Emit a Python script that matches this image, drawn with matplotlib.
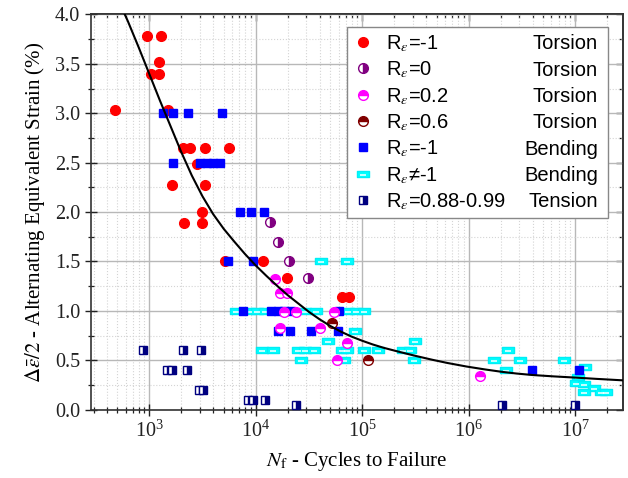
import numpy as np
import matplotlib
matplotlib.use('Agg')
import matplotlib.pyplot as plt
from matplotlib.path import Path
from matplotlib.ticker import LogLocator, MultipleLocator, NullFormatter, LogFormatterMathtext, FormatStrFormatter
from matplotlib.transforms import IdentityTransform

plt.rcParams['font.family'] = ['Liberation Serif', 'DejaVu Serif']
plt.rcParams['mathtext.fontset'] = 'stix'

# ---------------- data ----------------
# Torsion, R = -1
tor_m1_N = [477, 945, 1288, 1241, 1037, 1241, 1486, 2084, 2405, 3325, 5623, 2780, 1644, 3325,
            3097, 2128, 3097, 5117, 11700, 19630, 64400, 74900]
tor_m1_E = [3.03, 3.78, 3.78, 3.52, 3.40, 3.40, 3.03, 2.65, 2.65, 2.65, 2.65, 2.49, 2.27, 2.27,
            2.00, 1.89, 1.89, 1.51, 1.51, 1.33, 1.14, 1.14]
# Torsion, R = 0
tor_0_N = [13740, 16180, 20370, 30900]
tor_0_E = [1.90, 1.70, 1.51, 1.33]
# Torsion, R = 0.2
tor_02_N = [15070, 16780, 19500, 18400, 23710, 53830, 16780, 40360, 72270, 57800, 1.276e6]
tor_02_E = [1.32, 1.18, 1.18, 0.99, 0.99, 0.99, 0.83, 0.83, 0.68, 0.50, 0.34]
# Torsion, R = 0.6
tor_06_N = [51900, 112700]
tor_06_E = [0.88, 0.50]
# Bending, R = -1
ben_m1_N = [1353, 1679, 2324, 4875, 1679, 2986, 3473, 3956, 4600, 7195, 9125, 11890, 5500, 9445,
            7600, 14030, 16200, 18500, 21500, 61200, 16180, 21140, 33240, 59950, 3.97e6, 1.09e7]
ben_m1_E = [3.0, 3.0, 3.0, 3.0, 2.5, 2.5, 2.5, 2.5, 2.5, 2.0, 2.0, 2.0, 1.5, 1.5,
            1.0, 1.0, 1.0, 1.0, 1.0, 1.0, 0.8, 0.8, 0.8, 0.8, 0.4, 0.4]
# Bending, R != -1
ben_o_N = [6494, 8590, 10210, 12140, 28760, 37250, 74350, 88340, 104900,
           41300, 71800, 85900, 47640, 316000,
           11460, 14520, 24880, 28760, 35150, 64400, 71800, 104900, 139900, 243600, 284000, 2.366e6,
           26800, 68200, 309000, 1.737e6, 3.05e6, 7.87e6,
           2.263e6, 1.24e7, 1.072e7, 1.013e7, 1.21e7, 1.50e7, 1.21e7, 1.74e7, 1.94e7]
ben_o_E = [1.0, 1.0, 1.0, 1.0, 1.0, 1.0, 1.0, 1.0, 1.0,
           1.5, 1.5, 0.8, 0.7, 0.7,
           0.6, 0.6, 0.6, 0.6, 0.6, 0.6, 0.6, 0.6, 0.6, 0.6, 0.6, 0.6,
           0.5, 0.5, 0.5, 0.5, 0.5, 0.5,
           0.4, 0.43, 0.33, 0.27, 0.26, 0.22, 0.18, 0.18, 0.18]
# Tension, R = 0.88-0.99
ten_N = [879, 2084, 3055, 1455, 1622, 2243, 2943, 3165, 8470, 9445, 12140, 23710, 2.08e6, 9.9e6]
ten_E = [0.6, 0.6, 0.6, 0.4, 0.4, 0.4, 0.2, 0.2, 0.1, 0.1, 0.1, 0.05, 0.05, 0.05]
# Fitted curve
fit_N = [562, 631, 794, 1000, 1259, 1585, 1995, 2512, 3162, 3981, 5012, 6310, 7943, 10000,
         12590, 15850, 19950, 25120, 31620, 39810, 50120, 63100, 79430, 100000, 125900, 158500,
         223900, 316200, 457100, 631000, 955000, 1.413e6, 1.995e6, 2.818e6, 3.981e6, 6.31e6,
         1.0e7, 1.585e7, 2.818e7]
fit_E = [4.05, 3.93, 3.67, 3.40, 3.13, 2.87, 2.61, 2.37, 2.16, 1.98, 1.83, 1.70, 1.575, 1.46,
         1.355, 1.255, 1.16, 1.075, 0.99, 0.915, 0.848, 0.79, 0.74, 0.698, 0.66, 0.627,
         0.585, 0.545, 0.505, 0.473, 0.437, 0.408, 0.385, 0.366, 0.351, 0.337,
         0.325, 0.312, 0.297]

labels = [r'R$_\varepsilon$=-1', r'R$_\varepsilon$=0', r'R$_\varepsilon$=0.2', r'R$_\varepsilon$=0.6',
          r'R$_\varepsilon$=-1', r'R$_\varepsilon$≠-1', r'R$_\varepsilon$=0.88-0.99']
types = ['Torsion', 'Torsion', 'Torsion', 'Torsion', 'Bending', 'Bending', 'Tension']
yticks = [0.0, 0.5, 1.0, 1.5, 2.0, 2.5, 3.0, 3.5, 4.0]

# ---------------- figure ----------------
fig = plt.figure(figsize=(6.28, 4.78), dpi=100)
ax = fig.add_axes([0.1444, 0.1429, 0.8476, 0.8268])
ax.set_xscale('log')
ax.set_xlim(10 ** 2.45, 10 ** 7.45)
ax.set_ylim(0, 4)

ax.grid(which='major', color='#b8b8b8', lw=1.0, ls='-', zorder=0)
ax.grid(which='minor', color='#d4d4d4', lw=0.8, ls=':', zorder=0)
ax.set_axisbelow(True)

ax.xaxis.set_major_locator(LogLocator(base=10, numticks=12))
ax.xaxis.set_minor_locator(LogLocator(base=10, subs=np.arange(2, 10), numticks=12))
ax.xaxis.set_major_formatter(LogFormatterMathtext())
ax.xaxis.set_minor_formatter(NullFormatter())
ax.yaxis.set_minor_locator(MultipleLocator(0.25))
ax.set_yticks(yticks)
ax.yaxis.set_major_formatter(FormatStrFormatter('%.1f'))

ax.tick_params(which='major', direction='inout', length=8, width=1.0, labelsize=14.5, colors='#222222')
ax.tick_params(which='minor', direction='inout', length=5, width=0.9, colors='#222222')
ax.tick_params(axis='x', pad=4)
for sp in ax.spines.values():
    sp.set_linewidth(1.2)
    sp.set_color('#333333')

sec_x = ax.secondary_xaxis('top')
sec_x.tick_params(which='major', direction='in', length=5, width=1.0, labeltop=False, colors='#222222')
sec_x.tick_params(which='minor', direction='in', length=3, width=0.9, colors='#222222')
sec_x.xaxis.set_minor_locator(LogLocator(base=10, subs=np.arange(2, 10), numticks=12))
sec_x.xaxis.set_minor_formatter(NullFormatter())
sec_y = ax.secondary_yaxis('right')
sec_y.set_yticks(yticks)
sec_y.yaxis.set_minor_locator(MultipleLocator(0.25))
sec_y.tick_params(which='major', direction='in', length=5, width=1.0, labelright=False, colors='#222222')
sec_y.tick_params(which='minor', direction='in', length=3, width=0.9, colors='#222222')
for s in (sec_x, sec_y):
    for sp in s.spines.values():
        sp.set_linewidth(1.2)
        sp.set_color('#333333')

rect = Path([(-1, -0.62), (1, -0.62), (1, 0.62), (-1, 0.62), (-1, -0.62)],
            [Path.MOVETO, Path.LINETO, Path.LINETO, Path.LINETO, Path.CLOSEPOLY])
stripe = Path([(-1, -1), (1, 1), (-0.6, -0.18), (0.6, -0.18)],
              [Path.MOVETO, Path.MOVETO, Path.MOVETO, Path.LINETO])

h1, = ax.plot(tor_m1_N, tor_m1_E, ls='none', marker='o', ms=7, mfc='#ff0000', mec='#ff0000', zorder=3)
h6a, = ax.plot(ben_o_N, ben_o_E, ls='none', marker=rect, ms=8, mfc='#00ffff', mec='#00eef5', mew=1, zorder=3.1)
h6b, = ax.plot(ben_o_N, ben_o_E, ls='none', marker=stripe, ms=8, mec='white', mew=1.1, zorder=3.15)
h5, = ax.plot(ben_m1_N, ben_m1_E, ls='none', marker='s', ms=6.3, mfc='#0000ff', mec='#0000ff', zorder=3.2)
h2, = ax.plot(tor_0_N, tor_0_E, ls='none', marker='o', ms=7, fillstyle='right', mfc='#800080',
              mfcalt='white', mec='#800080', mew=1, zorder=3.3)
h3, = ax.plot(tor_02_N, tor_02_E, ls='none', marker='o', ms=7, fillstyle='top', mfc='#ff00ff',
              mfcalt='white', mec='#ff00ff', mew=1, zorder=3.3)
h4, = ax.plot(tor_06_N, tor_06_E, ls='none', marker='o', ms=7, fillstyle='top', mfc='#800000',
              mfcalt='white', mec='#800000', mew=1, zorder=3.3)
h7, = ax.plot(ten_N, ten_E, ls='none', marker='s', ms=6, fillstyle='right', mfc='#000080',
              mfcalt='white', mec='#000080', mew=1, zorder=3.4)
ax.plot(fit_N, fit_E, color='black', lw=1.5, zorder=4)

ax.set_xlabel(r'$N_\mathrm{f}$ - Cycles to Failure', fontsize=15, labelpad=6)
ax.set_ylabel(r'$\mathit{\Delta}\bar{\varepsilon}/2$ - Alternating Equivalent Strain (%)', fontsize=15, labelpad=6)

leg = ax.legend([h1, h2, h3, h4, h5, (h6a, h6b), h7], labels, loc='upper left',
                bbox_to_anchor=(0.482, 0.0, 0.490, 0.968), mode='expand', borderaxespad=0,
                prop={'family': ['Liberation Sans', 'DejaVu Sans'], 'size': 14.5},
                fancybox=False, framealpha=1, edgecolor='#888888', numpoints=1,
                handlelength=1.0, handletextpad=0.6, labelspacing=0.28, borderpad=0.3)
leg.get_frame().set_linewidth(1.0)
leg.set_zorder(10)

fig.canvas.draw()
r = fig.canvas.get_renderer()
fb = leg.get_frame().get_window_extent(r)
for t, lab in zip(leg.get_texts(), types):
    xb, yb = t.get_transform().transform((0, 0))
    fig.text(fb.x1 - 10, yb, lab, ha='right', va='baseline', transform=IdentityTransform(),
             fontsize=14.5, family=['Liberation Sans', 'DejaVu Sans'], zorder=11)

fig.savefig('out.png', dpi=100)
